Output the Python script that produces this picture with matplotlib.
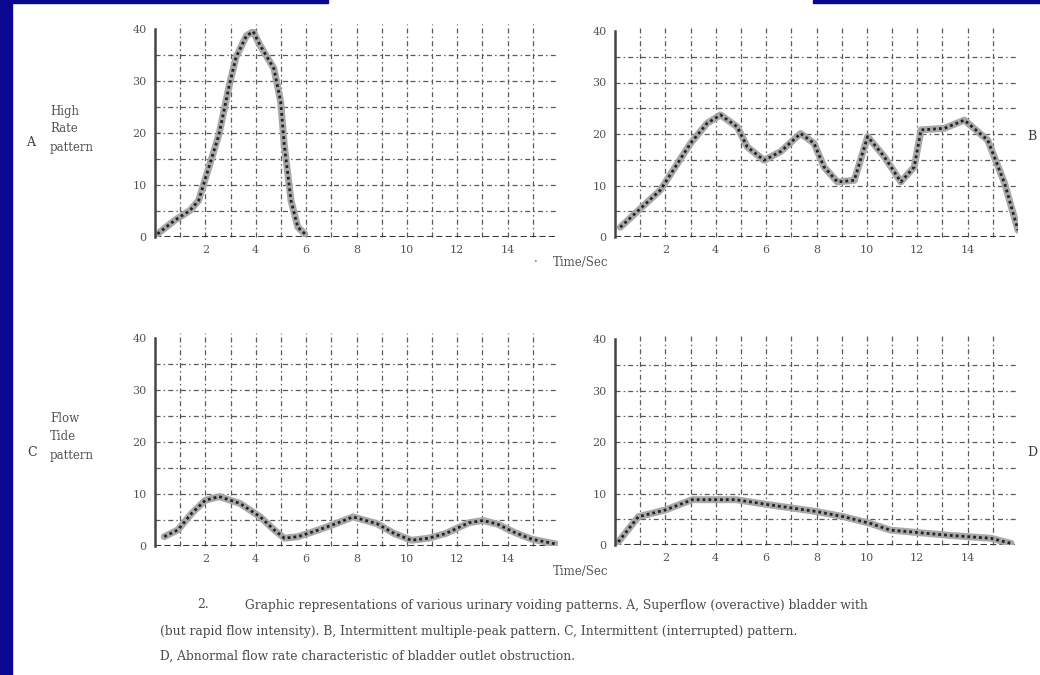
import matplotlib
matplotlib.use("Agg")
import matplotlib.pyplot as plt
from matplotlib.patches import Rectangle

# panel A: high, short single peak
a_t = [0.1, 0.78, 1.39, 1.73, 2.54, 2.95, 3.22, 3.63, 3.9, 4.18, 4.72, 4.99, 5.13, 5.4, 5.67, 5.95]
a_v = [0.6, 3.2, 5.1, 7.0, 19.7, 29.2, 34.6, 38.7, 39.5, 36.8, 32.4, 26.0, 17.8, 7.0, 1.9, 0.6]

# panel B: multiple peaks
b_t = [0.21, 1.8, 3.0, 3.66, 4.19, 4.85, 5.25, 5.92, 6.58, 7.37, 7.9, 8.3, 8.83, 9.5, 10.03,
       10.69, 11.35, 11.88, 12.15, 13.08, 13.87, 14.8, 15.47, 16.0]
b_v = [1.9, 9.1, 18.2, 22.1, 23.7, 21.4, 17.5, 14.9, 16.6, 20.1, 18.2, 13.6, 10.7, 11.0, 19.5,
       15.6, 10.7, 13.6, 20.8, 21.1, 22.7, 18.8, 10.4, 1.3]

# panel C: interrupted low humps
c_t = [0.37, 0.91, 1.46, 2.0, 2.55, 3.37, 4.18, 4.73, 5.14, 5.68, 6.5, 7.18, 7.86, 8.81, 9.5,
       10.18, 10.86, 11.54, 12.48, 13.03, 13.6, 14.28, 14.97, 15.9]
c_v = [1.8, 3.1, 6.3, 8.8, 9.5, 8.2, 5.6, 3.1, 1.5, 1.8, 3.1, 4.3, 5.6, 4.3, 2.4,
       1.1, 1.5, 2.4, 4.5, 4.9, 4.2, 2.6, 1.3, 0.4]

# panel D: long flat, low flow
d_t = [0.13, 0.93, 2.0, 3.07, 4.8, 6.13, 8.0, 9.07, 10.13, 10.93, 13.2, 14.93, 15.73]
d_v = [0.6, 5.5, 6.8, 8.8, 8.8, 7.8, 6.5, 5.5, 4.2, 2.9, 1.9, 1.3, 0.3]

y_ticks = [0, 10, 20, 30, 40]
x_ticks = [2, 4, 6, 8, 10, 12, 14]

W, H = 1040, 675
blue = '#0b0790'
ink = '#3a3a3a'

fig = plt.figure(figsize=(10.4, 6.75), dpi=100)
fig.patch.set_facecolor('white')

# blue frame pieces
fig.add_artist(Rectangle((0, 0), 12 / W, 1, transform=fig.transFigure, color=blue, zorder=5))
fig.add_artist(Rectangle((0, 1 - 3 / H), 328 / W, 3 / H, transform=fig.transFigure, color=blue, zorder=5))
fig.add_artist(Rectangle((813 / W, 1 - 3 / H), 227 / W, 3 / H, transform=fig.transFigure, color=blue, zorder=5))

grid_style = (0, (4, 2.5, 1.2, 2.5))


def panel(rect, t, v):
    ax = fig.add_axes(rect)
    ax.set_xlim(0, 16)
    ax.set_ylim(0, 40)
    ax.set_facecolor('none')
    for s in ['top', 'right', 'bottom']:
        ax.spines[s].set_visible(False)
    ax.spines['left'].set_color('#444444')
    ax.spines['left'].set_linewidth(1.8)
    ax.hlines(range(5, 40, 5), 0, 16, colors='#5a5a5a', linewidth=0.9, linestyles=grid_style)
    ax.vlines(range(1, 16), 0, 41, colors='#5a5a5a', linewidth=0.9, linestyles=grid_style,
              clip_on=False)
    ax.axhline(0, color='#3a3a3a', linewidth=1.5, linestyle=(0, (3, 1.5)))
    ax.plot(t, v, color='#a8a8a8', linewidth=5, solid_capstyle='round')
    ax.plot(t, v, color='#222222', linewidth=2.0, linestyle=(0, (1, 1.1)))
    ax.set_xticks(x_ticks)
    ax.set_yticks(y_ticks)
    ax.set_xticklabels([str(x) for x in x_ticks], fontsize=8, color='#555555', family='DejaVu Serif')
    ax.set_yticklabels([str(y) for y in y_ticks], fontsize=8, color='#555555', family='DejaVu Serif')
    ax.tick_params(length=0, pad=6)
    return ax


panel([155 / W, 1 - 237 / H, 403 / W, 208 / H], a_t, a_v)
panel([615 / W, 1 - 237 / H, 403 / W, 206 / H], b_t, b_v)
panel([155 / W, 1 - 546 / H, 403 / W, 208 / H], c_t, c_v)
panel([615 / W, 1 - 545 / H, 403 / W, 206 / H], d_t, d_v)

txt = dict(color='#555555', family='DejaVu Serif', fontsize=8.5)

# side labels
fig.text(31 / W, 1 - 142 / H, 'A', ha='center', va='center', color=ink, family='DejaVu Serif', fontsize=9)
fig.text(50 / W, 1 - 129 / H, 'High\nRate\npattern', ha='left', va='center', linespacing=1.5, **txt)
fig.text(32 / W, 1 - 453 / H, 'C', ha='center', va='center', color=ink, family='DejaVu Serif', fontsize=9)
fig.text(50 / W, 1 - 437 / H, 'Flow\nTide\npattern', ha='left', va='center', linespacing=1.5, **txt)
fig.text(1027 / W, 1 - 137 / H, 'B', ha='left', va='center', color=ink, family='DejaVu Serif', fontsize=9)
fig.text(1027 / W, 1 - 452 / H, 'D', ha='left', va='center', color=ink, family='DejaVu Serif', fontsize=9)

# time axis labels
fig.text(536 / W, 1 - 263 / H, '\u00b7', ha='center', va='center', **txt)
fig.text(553 / W, 1 - 263 / H, 'Time/Sec', ha='left', va='center', **txt)
fig.text(553 / W, 1 - 572 / H, 'Time/Sec', ha='left', va='center', **txt)

# caption
cap = dict(color='#4a4a4a', family='DejaVu Serif', fontsize=8.8, ha='left', va='center')
fig.text(197 / W, 1 - 605 / H, '2.', **cap)
fig.text(245 / W, 1 - 605 / H,
         'Graphic representations of various urinary voiding patterns. A, Superflow (overactive) bladder with', **cap)
fig.text(160 / W, 1 - 631 / H,
         '(but rapid flow intensity). B, Intermittent multiple-peak pattern. C, Intermittent (interrupted) pattern.', **cap)
fig.text(160 / W, 1 - 656 / H,
         'D, Abnormal flow rate characteristic of bladder outlet obstruction.', **cap)

fig.savefig('out.png', dpi=100)
